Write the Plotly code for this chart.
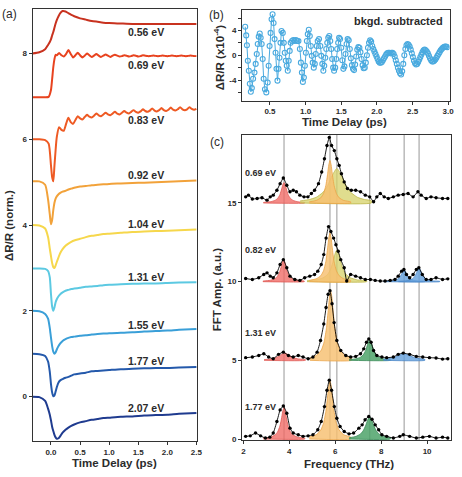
import plotly.graph_objects as go

W, H = 462, 477

# ---------------- Panel (a): normalized transients ----------------
A_LABELS = ["0.56 eV", "0.69 eV", "0.83 eV", "0.92 eV", "1.04 eV",
            "1.31 eV", "1.55 eV", "1.77 eV", "2.07 eV"]
A_COLORS = ["#c8321f", "#e8431f", "#ee5a24", "#f2a23a", "#f6d74c",
            "#5cc9e2", "#3a9fd8", "#2459ab", "#1f3b8f"]

T_SMOOTH = [-0.32, -0.2, -0.1, -0.05, -0.02, 0.0, 0.02, 0.04, 0.06, 0.08, 0.1, 0.13,
            0.16, 0.2, 0.25, 0.3, 0.35, 0.4, 0.5, 0.6, 0.7, 0.8, 0.9, 1.0, 1.2, 1.4,
            1.6, 1.8, 2.0, 2.2, 2.5]
T_OSC = [-0.32, -0.2, -0.1, -0.04, 0.0, 0.02, 0.04, 0.06, 0.08,
         0.10, 0.14, 0.18, 0.22, 0.26, 0.30, 0.34, 0.38, 0.42, 0.46, 0.50, 0.54,
         0.58, 0.62, 0.66, 0.70, 0.74, 0.78, 0.82, 0.86, 0.90, 0.94, 0.98, 1.02,
         1.06, 1.10, 1.14, 1.18, 1.22, 1.26, 1.30, 1.34, 1.38, 1.42, 1.46, 1.50,
         1.54, 1.58, 1.62, 1.66, 1.70, 1.74, 1.78, 1.82, 1.86, 1.90, 1.94, 1.98,
         2.02, 2.06, 2.10, 2.14, 2.18, 2.22, 2.26, 2.30, 2.34, 2.38, 2.42, 2.46, 2.50]

A_056 = [8.0, 8.03, 8.1, 8.2, 8.27, 8.33, 8.42, 8.5, 8.6, 8.7, 8.78, 8.87, 8.94, 8.99,
         8.98, 8.94, 8.9, 8.87, 8.82, 8.79, 8.76, 8.74, 8.72, 8.71, 8.7, 8.69, 8.69,
         8.69, 8.69, 8.69, 8.69]
A_069 = [6.98, 6.98, 6.98, 6.99, 7.15, 7.4, 7.68, 7.87, 7.97,
         7.96, 8.01, 7.96, 7.93, 7.99, 8.08, 7.99, 7.91, 7.96, 8.02, 7.96, 7.91, 7.95,
         8.0, 7.96, 7.92, 7.95, 7.99, 7.95, 7.92, 7.95, 7.98, 7.95, 7.92, 7.95, 7.97,
         7.95, 7.93, 7.94, 7.96, 7.95, 7.93, 7.94, 7.96, 7.95, 7.93, 7.94, 7.96, 7.95,
         7.94, 7.94, 7.95, 7.95, 7.94, 7.94, 7.95, 7.95, 7.94, 7.94, 7.95, 7.95, 7.94,
         7.94, 7.95, 7.95, 7.94, 7.94, 7.95, 7.95, 7.94, 7.94]
A_083 = [6.0, 6.0, 5.98, 5.9, 5.4, 5.12, 5.02, 5.38, 5.75,
         6.05, 6.28, 6.22, 6.2, 6.36, 6.5, 6.4, 6.36, 6.45, 6.54, 6.49, 6.46, 6.52,
         6.57, 6.53, 6.51, 6.55, 6.6, 6.56, 6.54, 6.58, 6.62, 6.58, 6.56, 6.6, 6.64,
         6.6, 6.58, 6.62, 6.66, 6.62, 6.6, 6.64, 6.68, 6.64, 6.62, 6.65, 6.7, 6.66,
         6.64, 6.67, 6.72, 6.67, 6.65, 6.68, 6.73, 6.68, 6.66, 6.69, 6.74, 6.69, 6.67,
         6.7, 6.75, 6.7, 6.68, 6.7, 6.75, 6.71, 6.69, 6.71]
A_092 = [5.02, 5.02, 4.94, 4.6, 4.25, 4.02, 4.12, 4.35, 4.52, 4.62, 4.67, 4.72, 4.75,
         4.78, 4.8, 4.83, 4.85, 4.87, 4.9, 4.91, 4.93, 4.94, 4.95, 4.96, 4.97, 4.98,
         4.99, 5.0, 5.01, 5.02, 5.04]
A_104 = [4.0, 3.99, 3.92, 3.72, 3.45, 3.28, 3.12, 3.02, 3.0, 3.06, 3.14, 3.25, 3.35,
         3.44, 3.52, 3.57, 3.61, 3.64, 3.68, 3.72, 3.75, 3.77, 3.79, 3.8, 3.82, 3.84,
         3.85, 3.86, 3.87, 3.88, 3.9]
A_131 = [2.99, 2.99, 2.98, 2.93, 2.78, 2.4, 2.1, 2.0, 2.08, 2.2, 2.27, 2.34, 2.39,
         2.43, 2.47, 2.49, 2.51, 2.52, 2.54, 2.56, 2.57, 2.58, 2.6, 2.61, 2.62, 2.63,
         2.64, 2.64, 2.65, 2.66, 2.67]
A_155 = [2.0, 1.99, 1.93, 1.82, 1.6, 1.38, 1.18, 1.05, 1.0, 1.03, 1.1, 1.18, 1.24,
         1.3, 1.34, 1.37, 1.39, 1.4, 1.42, 1.43, 1.45, 1.46, 1.47, 1.48, 1.49, 1.5,
         1.52, 1.53, 1.54, 1.56, 1.58]
A_177 = [1.0, 0.99, 0.95, 0.82, 0.58, 0.3, 0.1, 0.01, 0.03, 0.12, 0.22, 0.33, 0.38,
         0.41, 0.44, 0.46, 0.49, 0.52, 0.54, 0.56, 0.59, 0.6, 0.61, 0.62, 0.64, 0.65,
         0.66, 0.67, 0.67, 0.68, 0.69]
A_207 = [0.0, -0.01, -0.1, -0.28, -0.42, -0.55, -0.7, -0.8, -0.89, -0.95, -0.98,
         -0.97, -0.92, -0.84, -0.77, -0.72, -0.68, -0.65, -0.6, -0.57, -0.54, -0.52,
         -0.5, -0.49, -0.47, -0.46, -0.44, -0.43, -0.42, -0.4, -0.38]
A_SERIES = [(T_SMOOTH, A_056), (T_OSC, A_069), (T_OSC, A_083), (T_SMOOTH, A_092),
            (T_SMOOTH, A_104), (T_SMOOTH, A_131), (T_SMOOTH, A_155), (T_SMOOTH, A_177),
            (T_SMOOTH, A_207)]

# ---------------- Panel (b): background-subtracted oscillation ----------------
B_T = [0.153, 0.167, 0.177, 0.19, 0.204, 0.218, 0.232, 0.246, 0.264, 0.283, 0.3, 0.315,
       0.329, 0.343, 0.357, 0.37, 0.384, 0.398, 0.412, 0.43, 0.449, 0.468, 0.482, 0.495,
       0.509, 0.523, 0.537, 0.551, 0.565, 0.579, 0.592, 0.606, 0.62, 0.634, 0.648, 0.662,
       0.68, 0.694, 0.708, 0.722, 0.736, 0.75, 0.763, 0.777, 0.791, 0.81, 0.828, 0.847,
       0.865, 0.884, 0.9, 0.92, 0.934, 0.948, 0.962, 0.976, 0.99, 1.004, 1.018, 1.031,
       1.045, 1.059, 1.073, 1.087, 1.1, 1.115, 1.129, 1.142, 1.156, 1.17, 1.188, 1.207,
       1.22, 1.235, 1.249, 1.262, 1.276, 1.29, 1.304, 1.318, 1.332, 1.346, 1.36, 1.373,
       1.387, 1.4, 1.415, 1.43, 1.443, 1.457, 1.47, 1.484, 1.5, 1.515, 1.53, 1.545,
       1.56, 1.575, 1.59, 1.605, 1.62, 1.635, 1.65, 1.665, 1.68, 1.695, 1.71, 1.725,
       1.74, 1.755, 1.77, 1.785, 1.8, 1.815, 1.83, 1.845, 1.86, 1.875, 1.89, 1.905,
       1.92, 1.935, 1.95, 1.965, 1.98, 1.995, 2.01, 2.025, 2.04, 2.055, 2.07, 2.085,
       2.1, 2.115, 2.13, 2.145, 2.16, 2.175, 2.19, 2.205, 2.22, 2.235, 2.25, 2.265,
       2.28, 2.295, 2.31, 2.325, 2.34, 2.355, 2.37, 2.385, 2.4, 2.415, 2.43, 2.445,
       2.46, 2.475, 2.49, 2.505, 2.52, 2.535, 2.55, 2.565, 2.58, 2.595, 2.61, 2.625,
       2.64, 2.655, 2.67, 2.685, 2.7, 2.715, 2.73, 2.745, 2.76, 2.775, 2.79, 2.805,
       2.82, 2.835, 2.85, 2.865, 2.88, 2.895, 2.91, 2.925, 2.94, 2.955, 2.97, 2.985]
B_V = [4.6, 3.2, 1.6, -0.9, -2.5, -4.6, -5.9, -5.3, -3.8, -2.8, -1.4, 0.2,
       1.8, 3.0, 3.5, 2.8, 1.8, -0.6, -3.8, -5.5, -6.0, -4.4, -1.7, 1.5,
       3.6, 5.8, 6.6, 5.2, 2.6, 0.4, -2.2, -4.1, -2.2, -0.4, 2.0, 3.9,
       3.6, 2.0, 0.4, -0.9, -1.7, -2.5, -0.9, 0.7, 2.0, 2.3, 2.45, 2.3,
       2.45, 2.3, 2.3, 1.0, -1.2, -2.8, -4.3, -3.6, -1.7, 0.4, 2.3, 3.4,
       4.1, 3.1, 1.5, -0.1, -1.2, -2.0, -1.4, 0.2, 1.5, 2.3, 2.6, 1.5,
       -0.1, -1.4, -2.5, -1.7, -0.4, 1.0, 2.0, 2.8, 3.1, 2.3, 1.0, -0.6,
       -2.0, -2.5, -2.0, -0.6, 1.0, 2.0, 2.8, 2.6, 1.2, -0.8, -2.2, -1.8,
       0.2, 1.8, 2.6, 2.4, 1.0, -0.5, -1.6, -2.2, -2.4, -1.5, -0.2, 0.9,
       1.3, 1.2, 0.5, -0.6, -1.6, -2.1, -2.0, -1.2, 0.0, 1.2, 2.0, 2.4,
       2.2, 1.5, 1.0, 0.6, 0.2, -0.2, -0.6, -1.0, -1.2, -1.2, -1.1, -0.8,
       -0.5, -0.2, 0.1, 0.3, 0.4, 0.4, 0.3, 0.4, 0.4, 0.2, -0.2, -0.8,
       -1.4, -2.0, -2.5, -2.9, -3.1, -2.6, -1.4, 0.0, 1.0, 1.6, 1.8, 1.7,
       1.4, 0.9, 0.3, -0.3, -0.9, -1.3, -1.5, -1.4, -1.1, -0.7, -0.3, 0.1,
       0.5, 0.8, 0.9, 0.8, 0.6, 0.3, -0.1, -0.5, -0.8, -1.0, -1.0, -0.9,
       -0.7, -0.4, -0.1, 0.2, 0.5, 0.8, 1.0, 1.2, 1.3, 1.4, 1.4, 1.3]
B_COLOR = "#4aaadf"

# ---------------- Panel (c): FFT spectra ----------------
C_LABELS = ["0.69 eV", "0.82 eV", "1.31 eV", "1.77 eV"]
MODE_FREQS = [3.77, 5.77, 6.07, 7.5, 9.0, 9.65]

SPEC_069_F = [2.1, 2.22, 2.39, 2.6, 2.81, 3.03, 3.17, 3.3, 3.46, 3.6, 3.74, 3.89, 4.03,
              4.17, 4.31, 4.46, 4.64, 4.81, 4.96, 5.1, 5.27, 5.41, 5.53, 5.64, 5.74,
              5.84, 5.96, 6.07, 6.17, 6.27, 6.39, 6.53, 6.7, 6.89, 7.1, 7.31, 7.5, 7.67,
              7.81, 7.96, 8.13, 8.31, 8.53, 8.74, 8.96, 9.17, 9.39, 9.6, 9.74, 9.96,
              10.17, 10.39, 10.67, 10.9]
SPEC_069_A = [15.39, 15.5, 15.25, 15.29, 15.33, 15.18, 15.39, 15.5, 15.81, 16.23, 16.59,
              16.13, 15.71, 15.81, 15.71, 15.5, 15.39, 15.39, 15.6, 15.81, 16.23, 16.97,
              17.81, 18.65, 19.17, 18.65, 18.33, 17.81, 17.39, 16.86, 16.34, 15.92,
              15.81, 15.81, 15.71, 15.5, 15.39, 15.08, 15.39, 15.6, 15.39, 15.29, 15.39,
              15.5, 15.54, 15.6, 15.39, 15.71, 15.5, 15.29, 15.39, 15.33, 15.29, 15.29]
SPEC_082_F = [2.1, 2.39, 2.67, 2.89, 3.03, 3.17, 3.3, 3.46, 3.6, 3.74, 3.89, 4.03, 4.24,
              4.46, 4.67, 4.89, 5.1, 5.24, 5.39, 5.5, 5.6, 5.71, 5.81, 5.93, 6.03, 6.13,
              6.24, 6.39, 6.5, 6.67, 6.89, 7.1, 7.31, 7.53, 7.74, 7.96, 8.17, 8.39, 8.6,
              8.74, 8.89, 8.99, 9.1, 9.24, 9.39, 9.53, 9.64, 9.79, 9.96, 10.17, 10.39,
              10.67, 10.9]
SPEC_082_A = [10.2, 10.14, 10.25, 10.46, 10.56, 10.35, 10.25, 10.56, 11.09, 11.4, 10.88,
              10.35, 10.14, 10.08, 10.25, 10.35, 10.46, 10.67, 11.09, 11.72, 12.77, 13.5,
              13.19, 12.77, 12.35, 11.93, 11.4, 10.88, 10.04, 10.46, 10.35, 10.25, 10.14,
              10.14, 10.08, 10.04, 10.04, 10.08, 10.14, 10.35, 10.67, 10.77, 10.46,
              10.25, 10.46, 10.77, 10.88, 10.46, 10.14, 10.14, 10.25, 10.14, 10.18]
SPEC_131_F = [2.1, 2.39, 2.67, 2.89, 3.1, 3.3, 3.53, 3.74, 3.96, 4.17, 4.39, 4.6, 4.82,
              5.03, 5.21, 5.36, 5.5, 5.6, 5.69, 5.77, 5.86, 5.95, 6.07, 6.24, 6.46, 6.67,
              6.89, 7.1, 7.24, 7.36, 7.46, 7.56, 7.67, 7.81, 8.03, 8.24, 8.53, 8.74, 8.96,
              9.24, 9.53, 9.81, 10.1, 10.39, 10.67, 10.9]
SPEC_131_A = [5.17, 5.21, 5.31, 5.42, 5.21, 5.1, 5.38, 5.52, 5.31, 5.21, 5.31, 5.21, 5.1,
              5.21, 5.52, 6.26, 7.31, 8.36, 9.2, 9.43, 8.6, 7.4, 6.26, 5.63, 5.31, 5.21,
              5.25, 5.42, 5.73, 6.15, 6.36, 6.15, 5.63, 5.31, 5.21, 5.17, 5.21, 5.38,
              5.46, 5.38, 5.25, 5.21, 5.17, 5.15, 5.08, 5.1]
SPEC_177_F = [2.1, 2.3, 2.53, 2.75, 2.96, 3.15, 3.3, 3.46, 3.6, 3.74, 3.89, 4.03, 4.17,
              4.39, 4.6, 4.82, 5.03, 5.24, 5.39, 5.53, 5.64, 5.74, 5.84, 5.96, 6.07, 6.21,
              6.39, 6.6, 6.8, 7.03, 7.17, 7.3, 7.46, 7.6, 7.74, 7.89, 8.03, 8.24, 8.53,
              8.81, 8.96, 9.24, 9.53, 9.81, 10.1, 10.39, 10.67, 10.9]
SPEC_177_A = [0.17, 0.2, 0.38, 0.2, 0.06, 0.12, 0.38, 1.11, 1.85, 2.1, 1.64, 0.69, 0.38,
              0.27, 0.17, 0.2, 0.27, 0.59, 1.11, 2.06, 3.1, 3.74, 3.1, 2.06, 1.32, 0.8,
              0.48, 0.33, 0.38, 0.69, 0.9, 1.22, 1.43, 1.26, 0.9, 0.59, 0.27, 0.17, 0.06,
              0.17, 0.27, 0.17, 0.06, 0.12, 0.17, 0.06, 0.12, 0.06]
SPECTRA = [(SPEC_069_F, SPEC_069_A), (SPEC_082_F, SPEC_082_A),
           (SPEC_131_F, SPEC_131_A), (SPEC_177_F, SPEC_177_A)]

# fitted mode components (height above each spectrum's baseline)
RED_069_F = [2.87, 3.17, 3.37, 3.49, 3.59, 3.67, 3.72, 3.77, 3.82, 3.87, 3.95, 4.05, 4.17, 4.37, 4.67]
RED_069_A = [0.035, 0.077, 0.16, 0.29, 0.53, 0.9, 1.17, 1.3, 1.17, 0.9, 0.53, 0.29, 0.16, 0.077, 0.035]
YEL_069_F = [4.47, 4.87, 5.17, 5.47, 5.67, 5.87, 6.07, 6.27, 6.47, 6.67, 6.97, 7.27, 7.57]
YEL_069_A = [0.13, 0.22, 0.36, 0.68, 1.1, 1.76, 2.2, 1.76, 1.1, 0.68, 0.36, 0.22, 0.145]
ORA_069_F = [4.87, 5.17, 5.37, 5.49, 5.59, 5.67, 5.72, 5.77, 5.82, 5.87, 5.95, 6.05, 6.17, 6.37, 6.67]
ORA_069_A = [0.073, 0.16, 0.33, 0.6, 1.11, 1.87, 2.43, 2.7, 2.43, 1.87, 1.11, 0.6, 0.33, 0.16, 0.073]

RED_082_F = [2.85, 3.15, 3.35, 3.47, 3.57, 3.65, 3.7, 3.75, 3.8, 3.85, 3.93, 4.03, 4.15, 4.35, 4.65]
RED_082_A = [0.038, 0.083, 0.17, 0.31, 0.57, 0.97, 1.26, 1.4, 1.26, 0.97, 0.57, 0.31, 0.17, 0.083, 0.038]
YEL_082_F = [4.77, 5.17, 5.47, 5.67, 5.79, 5.89, 5.97, 6.02, 6.07, 6.12, 6.17, 6.25, 6.35, 6.47, 6.67, 6.97, 7.37]
YEL_082_A = [0.056, 0.11, 0.24, 0.46, 0.76, 1.2, 1.66, 1.9, 2.0, 1.9, 1.66, 1.2, 0.76, 0.46, 0.24, 0.11, 0.056]
ORA_082_F = [4.87, 5.17, 5.37, 5.49, 5.59, 5.67, 5.72, 5.77, 5.82, 5.87, 5.95, 6.05, 6.17, 6.37, 6.67]
ORA_082_A = [0.084, 0.18, 0.38, 0.69, 1.27, 2.15, 2.79, 3.1, 2.79, 2.15, 1.27, 0.69, 0.38, 0.18, 0.084]
BLU1_082_F = [8.1, 8.4, 8.6, 8.72, 8.82, 8.9, 8.95, 9.0, 9.05, 9.1, 9.18, 9.28, 9.4, 9.6, 9.9]
BLU1_082_A = [0.02, 0.044, 0.092, 0.167, 0.31, 0.52, 0.675, 0.75, 0.675, 0.52, 0.31, 0.167, 0.092, 0.044, 0.02]
BLU2_082_F = [8.75, 9.05, 9.25, 9.37, 9.47, 9.55, 9.6, 9.65, 9.7, 9.75, 9.83, 9.93, 10.05, 10.25, 10.55]
BLU2_082_A = [0.023, 0.05, 0.105, 0.19, 0.35, 0.59, 0.765, 0.85, 0.765, 0.59, 0.35, 0.19, 0.105, 0.05, 0.023]

RED_131_F = [2.9, 3.2, 3.4, 3.52, 3.62, 3.7, 3.75, 3.8, 3.85, 3.9, 3.98, 4.08, 4.2, 4.4, 4.7]
RED_131_A = [0.045, 0.09, 0.16, 0.24, 0.33, 0.405, 0.44, 0.45, 0.44, 0.405, 0.33, 0.24, 0.16, 0.09, 0.045]
ORA_131_F = [4.9, 5.2, 5.4, 5.52, 5.62, 5.7, 5.75, 5.8, 5.85, 5.9, 5.98, 6.08, 6.2, 6.4, 6.7]
ORA_131_A = [0.15, 0.33, 0.67, 1.19, 2.08, 3.27, 4.05, 4.4, 4.05, 3.27, 2.08, 1.19, 0.67, 0.33, 0.15]
GRN_131_F = [6.6, 6.9, 7.1, 7.22, 7.32, 7.4, 7.45, 7.5, 7.55, 7.6, 7.68, 7.78, 7.9, 8.1, 8.4]
GRN_131_A = [0.044, 0.096, 0.2, 0.35, 0.61, 0.97, 1.2, 1.3, 1.2, 0.97, 0.61, 0.35, 0.2, 0.096, 0.044]
BLU_131_F = [8.1, 8.4, 8.6, 8.72, 8.82, 8.9, 8.95, 9.0, 9.05, 9.1, 9.18, 9.28, 9.4, 9.6, 9.9]
BLU_131_A = [0.066, 0.12, 0.2, 0.27, 0.33, 0.38, 0.39, 0.4, 0.39, 0.38, 0.33, 0.27, 0.2, 0.12, 0.066]

RED_177_F = [2.87, 3.17, 3.37, 3.49, 3.59, 3.67, 3.72, 3.77, 3.82, 3.87, 3.95, 4.05, 4.17, 4.37, 4.67]
RED_177_A = [0.054, 0.118, 0.25, 0.45, 0.82, 1.38, 1.8, 2.0, 1.8, 1.38, 0.82, 0.45, 0.25, 0.118, 0.054]
ORA_177_F = [4.87, 5.17, 5.37, 5.49, 5.59, 5.67, 5.72, 5.77, 5.82, 5.87, 5.95, 6.05, 6.17, 6.37, 6.67]
ORA_177_A = [0.126, 0.27, 0.57, 1.0, 1.75, 2.75, 3.4, 3.7, 3.4, 2.75, 1.75, 1.0, 0.57, 0.27, 0.126]
GRN_177_F = [6.6, 6.9, 7.1, 7.22, 7.32, 7.4, 7.45, 7.5, 7.55, 7.6, 7.68, 7.78, 7.9, 8.1, 8.4]
GRN_177_A = [0.078, 0.165, 0.325, 0.535, 0.84, 1.16, 1.33, 1.4, 1.33, 1.16, 0.84, 0.535, 0.325, 0.165, 0.078]

FILL_STYLE = {
    "red": ("rgba(240,105,100,0.78)", "#e05a55"),
    "orange": ("rgba(247,192,112,0.82)", "#eba449"),
    "yellow": ("rgba(214,210,104,0.75)", "#bdb64a"),
    "green": ("rgba(78,163,106,0.85)", "#3a8c58"),
    "blue": ("rgba(100,160,220,0.8)", "#4a86c8"),
}
COMPONENTS = [
    (15, "red", RED_069_F, RED_069_A), (15, "yellow", YEL_069_F, YEL_069_A),
    (15, "orange", ORA_069_F, ORA_069_A),
    (10, "red", RED_082_F, RED_082_A), (10, "yellow", YEL_082_F, YEL_082_A),
    (10, "orange", ORA_082_F, ORA_082_A), (10, "blue", BLU1_082_F, BLU1_082_A),
    (10, "blue", BLU2_082_F, BLU2_082_A),
    (5, "red", RED_131_F, RED_131_A), (5, "orange", ORA_131_F, ORA_131_A),
    (5, "green", GRN_131_F, GRN_131_A), (5, "blue", BLU_131_F, BLU_131_A),
    (0, "red", RED_177_F, RED_177_A), (0, "orange", ORA_177_F, ORA_177_A),
    (0, "green", GRN_177_F, GRN_177_A),
]

# ---------------- figure ----------------
FONT = "Liberation Sans, Arial, sans-serif"
TXT = "#2b2b2b"
fig = go.Figure()

for (t, v), col in zip(A_SERIES, A_COLORS):
    fig.add_trace(go.Scatter(x=t, y=v, mode="lines",
                             line=dict(color=col, width=2, shape="spline", smoothing=0.6),
                             xaxis="x", yaxis="y", showlegend=False, hoverinfo="skip"))

fig.add_trace(go.Scatter(x=B_T, y=B_V, mode="lines+markers",
                         line=dict(color=B_COLOR, width=1),
                         marker=dict(symbol="circle-open", size=5, color=B_COLOR, line=dict(width=1.1)),
                         xaxis="x2", yaxis="y2", showlegend=False, hoverinfo="skip"))

for base, cname, f, a in COMPONENTS:
    fc, lc = FILL_STYLE[cname]
    xs = list(f) + [f[-1], f[0]]
    ys = [base + v for v in a] + [base, base]
    fig.add_trace(go.Scatter(x=xs, y=ys, mode="lines", fill="toself", fillcolor=fc,
                             line=dict(color=lc, width=0.8, shape="spline", smoothing=0.5),
                             xaxis="x3", yaxis="y3", showlegend=False, hoverinfo="skip"))

for f, a in SPECTRA:
    fig.add_trace(go.Scatter(x=f, y=a, mode="lines+markers",
                             line=dict(color="black", width=0.9, shape="spline", smoothing=0.4),
                             marker=dict(size=3.4, color="black"),
                             xaxis="x3", yaxis="y3", showlegend=False, hoverinfo="skip"))


def px(x):
    return x / W


def py(y):
    return 1 - y / H


DOM_A_X = [px(32), px(199)]
DOM_A_Y = [py(445), py(9)]
DOM_B_X = [px(244.7), px(455.5)]
DOM_B_Y = [py(101.7), py(10)]
DOM_C_X = [px(244.7), px(456.7)]
DOM_C_Y = [py(444), py(136)]

tickfont = dict(family=FONT, size=8, color=TXT, weight="bold")
axis_common = dict(showline=True, linecolor="#333", linewidth=1, mirror=True, ticks="outside",
                   ticklen=3, tickcolor="#333", tickwidth=1, showgrid=False, zeroline=False,
                   tickfont=tickfont)

shapes = []
for fr in MODE_FREQS:
    shapes.append(dict(type="line", xref="x3", yref="y3 domain", x0=fr, x1=fr, y0=0, y1=1,
                       line=dict(color="#a8a8a8", width=1.2), layer="below"))

ann = []


def add_text(x, y, text, size=10, angle=0, bold=True, xanchor="center"):
    ann.append(dict(x=px(x), y=py(y), xref="paper", yref="paper", text=text, showarrow=False,
                    textangle=angle, xanchor=xanchor, yanchor="middle",
                    font=dict(family=FONT, size=size, color=TXT, weight="bold" if bold else "normal")))


add_text(9, 14, "(a)", size=12, bold=False)
add_text(219, 15, "(b)", size=12, bold=False)
add_text(219, 143, "(c)", size=12, bold=False)
add_text(115, 467, "Time Delay (ps)", size=11.5)
add_text(8, 227, "ΔR/R (norm.)", size=11.5, angle=-90)
add_text(349, 123, "Time Delay (ps)", size=11.5)
add_text(221, 58, "ΔR/R (x10<sup>-4</sup>)", size=11.5, angle=-90)
add_text(404, 21, "bkgd. subtracted", size=11)
add_text(353, 468, "Frequency (THz)", size=11.5)
add_text(219, 292, "FFT Amp. (a.u.)", size=11.5, angle=-90)

A_LABEL_Y = [32.3, 65.7, 120.7, 176.7, 226, 279.3, 327.3, 364, 411]
for lab, yy in zip(A_LABELS, A_LABEL_Y):
    add_text(147, yy, lab, size=10.5)
C_LABEL_Y = [174.3, 251.7, 335.7, 410]
for lab, yy in zip(C_LABELS, C_LABEL_Y):
    add_text(263, yy, lab, size=9)

fig.update_layout(
    width=W, height=H, margin=dict(l=0, r=0, t=0, b=0),
    paper_bgcolor="white", plot_bgcolor="white", showlegend=False,
    font=dict(family=FONT, color=TXT),
    xaxis=dict(domain=DOM_A_X, range=[-0.317, 2.51], tickvals=[0, 0.5, 1.0, 1.5, 2.0, 2.5],
               ticktext=["0.0", "0.5", "1.0", "1.5", "2.0", "2.5"], anchor="y", **axis_common),
    yaxis=dict(domain=DOM_A_Y, range=[-1.04, 9.04], tickvals=[0, 2, 4, 6, 8], anchor="x",
               **axis_common),
    xaxis2=dict(domain=DOM_B_X, range=[0.108, 3.02], tickvals=[0.5, 1.0, 1.5, 2.0, 2.5, 3.0],
                ticktext=["0.5", "1.0", "1.5", "2.0", "2.5", "3.0"], anchor="y2", **axis_common),
    yaxis2=dict(domain=DOM_B_Y, range=[-7.36, 7.31], tickvals=[-4, 0, 4],
                ticktext=["-4", "0", "4"], anchor="x2",
                minor=dict(tickvals=[-6, -2, 2, 6], ticks="outside", ticklen=3, tickcolor="#333"),
                **axis_common),
    xaxis3=dict(domain=DOM_C_X, range=[1.94, 11.03], tickvals=[2, 4, 6, 8, 10], anchor="y3",
                **axis_common),
    yaxis3=dict(domain=DOM_C_Y, range=[-0.08, 19.33], tickvals=[0, 5, 10, 15], anchor="x3",
                **axis_common),
    shapes=shapes, annotations=ann,
)

fig.write_html("out.html")
